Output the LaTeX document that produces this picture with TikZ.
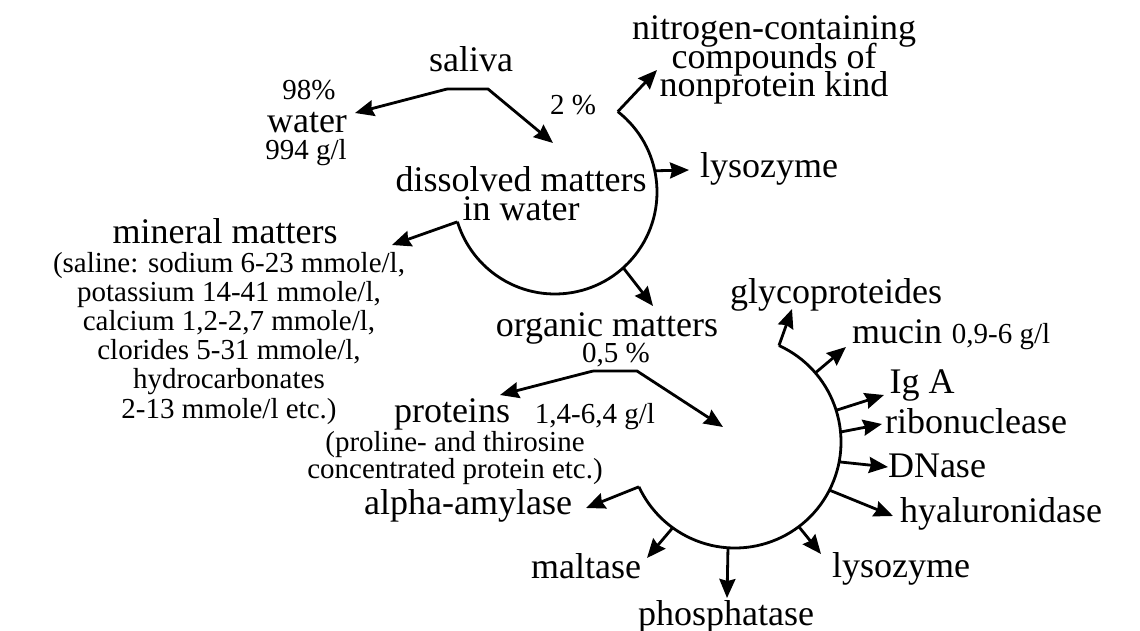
\documentclass[tikz,border=0pt]{standalone}
\usepackage{fontspec}
\setmainfont{Liberation Serif}
\usetikzlibrary{arrows.meta}
\newcommand{\nolsk}{\lineskiplimit -100pt\relax}
\begin{document}
\begin{tikzpicture}[x=1pt,y=-1pt,
  big/.style={font={\fontsize{36}{29}\selectfont\nolsk}, inner sep=0pt, anchor=base},
  small/.style={font={\fontsize{29}{29.2}\selectfont\nolsk}, inner sep=0pt, anchor=base},
  ln/.style={line width=2.8pt},
  arr/.style={line width=2.8pt, -{Stealth[length=19pt,width=16pt,inset=2pt]}}]
\useasboundingbox[fill=white] (0,0) rectangle (1140,631);

% texts (multi-line nodes are placed at the baseline of their last line)
\node[big] (saliva) at (471,72) {saliva};
\node[small] (pct98) at (309,100) {98\%};
\node[big] (water) at (307,133) {water};
\node[small] (gl994) at (306,160) {994 g/l};
\node[small] (pct2) at (573,115) {2 \%};
\node[big, align=center] (dissolved) at (521,221) {dissolved matters\\in water};
\node[big, align=center, font={\fontsize{36}{28.5}\selectfont\nolsk}] (nitrogen) at (774,97) {nitrogen-containing\\compounds of\\nonprotein kind};
\node[big] (lysoA) at (769,178) {lysozyme};
\node[big] (mineral) at (225,243) {mineral matters};
\node[small, align=center] (minlist) at (229,418) {(saline: sodium 6-23 mmole/l,\\potassium 14-41 mmole/l,\\calcium 1,2-2,7 mmole/l,\\clorides 5-31 mmole/l,\\hydrocarbonates\\2-13 mmole/l etc.)};
\node[big] (organic) at (607,336) {organic matters};
\node[small] (pct05) at (616,362) {0,5 \%};
\node[big] (proteins) at (452,422) {proteins};
\node[small] (protconc) at (595,423) {1,4-6,4 g/l};
\node[small, align=center, font={\fontsize{29}{27}\selectfont\nolsk}] (protlist) at (455,478) {(proline- and thirosine\\concentrated protein etc.)};
\node[big] (alpha) at (468,514) {alpha-amylase};
\node[big] (maltase) at (586,578) {maltase};
\node[big] (phosph) at (726,625) {phosphatase};
\node[big] (lysoB) at (901,577) {lysozyme};
\node[big] (hyal) at (1001,522) {hyaluronidase};
\node[big] (dnase) at (937,477) {DNase};
\node[big] (ribo) at (976,433) {ribonuclease};
\node[big] (iga) at (922,393) {Ig A};
\node[big] (mucin) at (897,343) {mucin};
\node[small] (mucconc) at (1001,343) {0,9-6 g/l};
\node[big] (glyco) at (836,303) {glycoproteides};

% circle 1 (dissolved matters)
\coordinate (C1) at (555,192);
\coordinate (c1s) at ([shift={(-52:102)}]C1);
\coordinate (c1e) at ([shift={(163:102)}]C1);
\coordinate (c1ly) at ([shift={(-12:102)}]C1);
\coordinate (c1or) at ([shift={(48:102)}]C1);
\draw[ln] (c1s) arc[start angle=-52, end angle=163, radius=102];

% circle 2 (organic matters)
\coordinate (C2) at (735,442);
\coordinate (c2s) at ([shift={(-65.5:106)}]C2);
\coordinate (c2e) at ([shift={(155:106)}]C2);
\coordinate (c2mu) at ([shift={(-40.7:106)}]C2);
\coordinate (c2ig) at ([shift={(-17.4:106)}]C2);
\coordinate (c2ri) at ([shift={(-5.4:106)}]C2);
\coordinate (c2dn) at ([shift={(10.8:106)}]C2);
\coordinate (c2hy) at ([shift={(27:106)}]C2);
\coordinate (c2ly) at ([shift={(53:106)}]C2);
\coordinate (c2ph) at ([shift={(93.8:106)}]C2);
\coordinate (c2ma) at ([shift={(126:106)}]C2);
\draw[ln] (c2s) arc[start angle=-65.5, end angle=155, radius=106];

% roofs
\coordinate (r1L) at (447,89);
\coordinate (r1R) at (488,89);
\coordinate (r2L) at (593,371);
\coordinate (r2R) at (637,371);

% arrow tips
\coordinate (tWater) at (355,113);
\coordinate (tDiss) at (553,143);
\coordinate (tNit) at (657,70);
\coordinate (tLysoA) at (689,170);
\coordinate (tOrg) at (653,306);
\coordinate (tMin) at (392,245);
\coordinate (tProt) at (500,395);
\coordinate (tC2) at (723,427);
\coordinate (tGly) at (792,309);
\coordinate (tMuc) at (846,347);
\coordinate (tIgA) at (884,395);
\coordinate (tRib) at (882,424);
\coordinate (tDNa) at (888,467);
\coordinate (tHya) at (893,516);
\coordinate (tLysoB) at (821,554);
\coordinate (tPho) at (727,598);
\coordinate (tMal) at (647,558);
\coordinate (tAlp) at (586,508);

% connectors
\draw[arr] (r1L) -- (r1R) -- (tDiss);
\draw[arr] (r1L) -- (tWater);
\draw[arr] (c1s) -- (tNit);
\draw[arr] (c1ly) -- (tLysoA);
\draw[arr] (c1or) -- (tOrg);
\draw[arr] (c1e) -- (tMin);
\draw[arr] (r2L) -- (r2R) -- (tC2);
\draw[arr] (r2L) -- (tProt);
\draw[arr] (c2s) -- (tGly);
\draw[arr] (c2mu) -- (tMuc);
\draw[arr] (c2ig) -- (tIgA);
\draw[arr] (c2ri) -- (tRib);
\draw[arr] (c2dn) -- (tDNa);
\draw[arr] (c2hy) -- (tHya);
\draw[arr] (c2ly) -- (tLysoB);
\draw[arr] (c2ph) -- (tPho);
\draw[arr] (c2ma) -- (tMal);
\draw[arr] (c2e) -- (tAlp);
\end{tikzpicture}
\end{document}
